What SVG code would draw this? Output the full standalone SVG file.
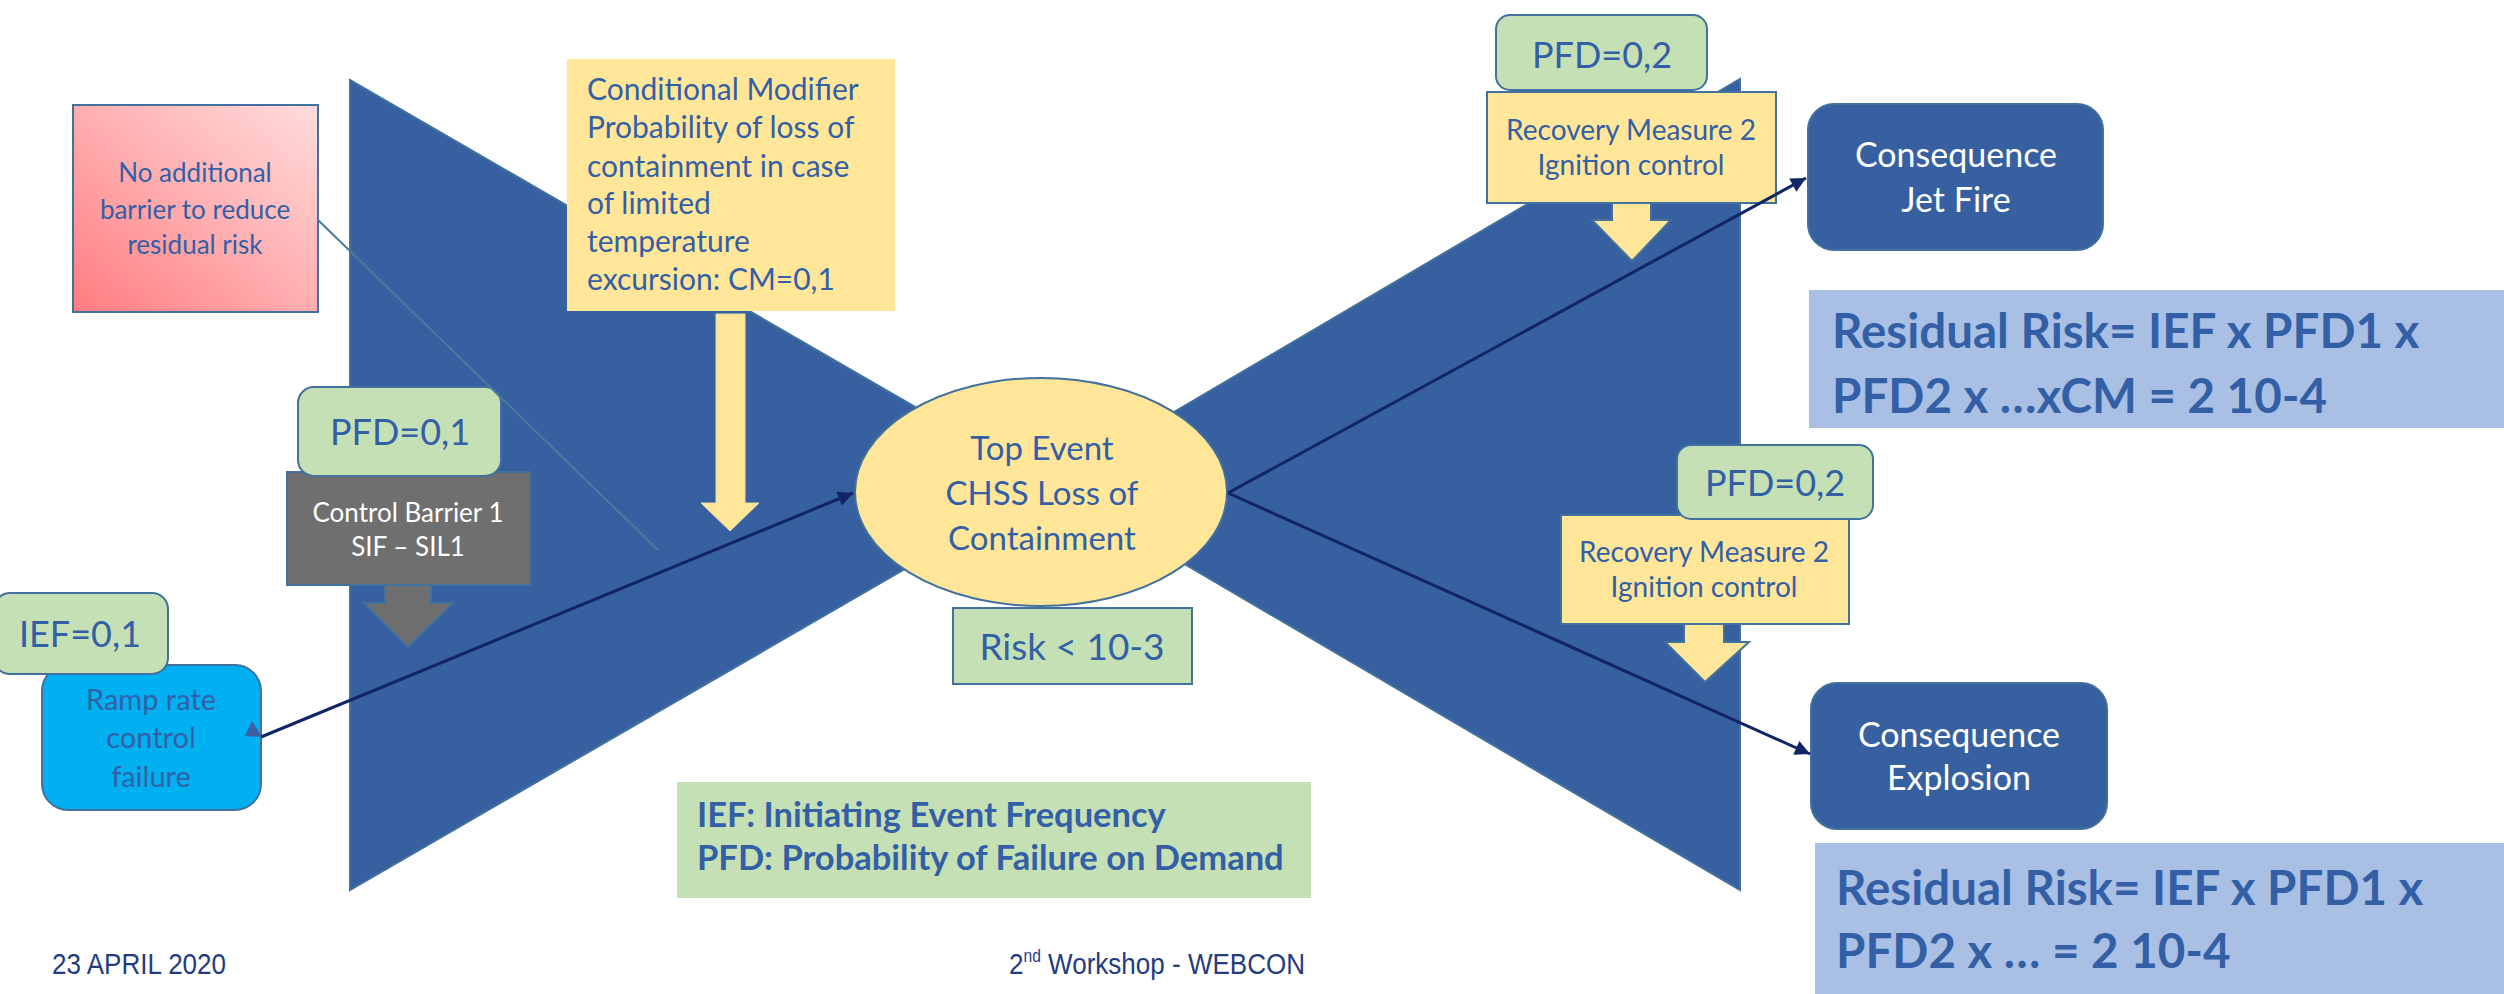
<svg xmlns="http://www.w3.org/2000/svg" width="2504" height="994" viewBox="0 0 2504 994">
  <defs>
    <linearGradient id="pinkFill" x1="0" y1="1" x2="1" y2="0">
      <stop offset="0" stop-color="#FF7C80"/>
      <stop offset="0.55" stop-color="#FFB3B5"/>
      <stop offset="1" stop-color="#FFDCDC"/>
    </linearGradient>
    <marker id="arrowEnd" viewBox="0 0 10 10" refX="10" refY="5" markerWidth="6" markerHeight="5" orient="auto" markerUnits="strokeWidth">
      <path d="M0,0 L10,5 L0,10 Z" fill="#102563"/>
    </marker>
    <style>
      .lbl { font-family: Lato, "Liberation Sans", sans-serif; fill: #335FA6; }
      .wht { font-family: Lato, "Liberation Sans", sans-serif; fill: #FFFFFF; }
      .bold { font-family: Lato, "Liberation Sans", sans-serif; font-weight: bold; fill: #335FA6; }
      .foot { font-family: "Liberation Sans", Arial, sans-serif; fill: #253B80; }
      .edge { stroke: #41719C; stroke-width: 2; }
      .green { fill: #C5E0B4; }
      .yellow { fill: #FFE699; }
      .navy { fill: #3760A1; }
      .conn { stroke: #102563; stroke-width: 3; fill: none; }
    </style>
  </defs>

  <rect width="2504" height="994" fill="#FFFFFF"/>

  <!-- bow-tie body -->
  <g id="bowtie">
    <polygon class="navy edge" points="350,80 350,890 1050,485"/>
    <polygon class="navy edge" points="1740,79 1740,890 1050,485"/>
  </g>

  <!-- top event -->
  <g id="top-event">
    <ellipse class="yellow edge" cx="1041" cy="492" rx="186" ry="114"/>
    <g class="lbl" font-size="33" text-anchor="middle">
      <text x="1042" y="460">Top Event</text>
      <text x="1042" y="505">CHSS Loss of</text>
      <text x="1042" y="550">Containment</text>
    </g>
  </g>

  <g id="risk-target">
    <rect class="green edge" x="953" y="608" width="239" height="76"/>
    <text class="lbl" x="1072" y="660" font-size="37" text-anchor="middle">Risk &lt; 10-3</text>
  </g>

  <!-- left side -->
  <g id="no-barrier">
    <rect x="73" y="105" width="245" height="207" fill="url(#pinkFill)" class="edge"/>
    <g class="lbl" font-size="26" text-anchor="middle">
      <text x="195" y="182">No additional</text>
      <text x="195" y="219">barrier to reduce</text>
      <text x="195" y="254">residual risk</text>
    </g>
  </g>

  <g id="conditional-modifier">
    <rect class="yellow" x="567" y="59" width="328" height="252"/>
    <g class="lbl" font-size="30">
      <text x="587" y="100">Conditional Modifier</text>
      <text x="587" y="138">Probability of loss of</text>
      <text x="587" y="177">containment in case</text>
      <text x="587" y="214">of limited</text>
      <text x="587" y="252">temperature</text>
      <text x="587" y="290">excursion: CM=0,1</text>
    </g>
    <polygon class="yellow" stroke="#E8D9A0" stroke-width="1" points="716,314 745,314 745,503 759,503 730,531 701,503 716,503"/>
  </g>

  <g id="control-barrier-1">
    <rect x="287" y="472" width="243" height="113" fill="#6F6F6F" class="edge"/>
    <g class="wht" font-size="26" text-anchor="middle">
      <text x="408" y="522">Control Barrier 1</text>
      <text x="408" y="556">SIF – SIL1</text>
    </g>
    <polygon fill="#6F6F6F" class="edge" points="385,585 431,585 431,603 453,603 408,647 364,603 385,603"/>
  </g>

  <g id="pfd-barrier-1">
    <rect class="green edge" x="298" y="387" width="203" height="89" rx="16"/>
    <text class="lbl" x="400" y="445" font-size="36" text-anchor="middle">PFD=0,1</text>
  </g>

  <g id="initiating-event">
    <rect x="42" y="665" width="219" height="145" rx="26" fill="#00B0F0" class="edge"/>
    <g class="lbl" font-size="29" text-anchor="middle" fill="#3E64A8">
      <text x="151" y="710">Ramp rate</text>
      <text x="151" y="748">control</text>
      <text x="151" y="787">failure</text>
    </g>
  </g>

  <g id="ief">
    <rect class="green edge" x="-6" y="593" width="174" height="81" rx="16"/>
    <text class="lbl" x="80" y="647" font-size="36" text-anchor="middle">IEF=0,1</text>
  </g>

  <!-- right side -->
  <g id="recovery-measure-top">
    <rect class="yellow edge" x="1487" y="92" width="289" height="111"/>
    <g class="lbl" font-size="28" text-anchor="middle">
      <text x="1631" y="140">Recovery Measure 2</text>
      <text x="1631" y="175">Ignition control</text>
    </g>
    <polygon class="yellow edge" points="1612,203 1651,203 1651,220 1671,220 1632,261 1592,220 1612,220"/>
  </g>

  <g id="pfd-top">
    <rect class="green edge" x="1496" y="15" width="211" height="75" rx="14"/>
    <text class="lbl" x="1602" y="68" font-size="36" text-anchor="middle">PFD=0,2</text>
  </g>

  <g id="recovery-measure-bottom">
    <rect class="yellow edge" x="1561" y="515" width="288" height="109"/>
    <g class="lbl" font-size="28" text-anchor="middle">
      <text x="1704" y="562">Recovery Measure 2</text>
      <text x="1704" y="597">Ignition control</text>
    </g>
    <polygon class="yellow edge" points="1684,624 1724,624 1724,642 1749,642 1705,682 1665,642 1684,642"/>
  </g>

  <g id="pfd-bottom">
    <rect class="green edge" x="1677" y="445" width="196" height="74" rx="14"/>
    <text class="lbl" x="1775" y="496" font-size="36" text-anchor="middle">PFD=0,2</text>
  </g>

  <g id="consequence-jet-fire">
    <rect class="navy edge" x="1808" y="104" width="295" height="146" rx="26"/>
    <g class="wht" font-size="34" text-anchor="middle">
      <text x="1956" y="167">Consequence</text>
      <text x="1956" y="212">Jet Fire</text>
    </g>
  </g>

  <g id="residual-risk-jet-fire">
    <rect x="1809" y="290" width="700" height="138" fill="#A9BFE4"/>
    <g class="bold" font-size="47.5">
      <text x="1832" y="348">Residual Risk= IEF x PFD1 x</text>
      <text x="1832" y="413">PFD2 x …xCM = 2 10-4</text>
    </g>
  </g>

  <g id="consequence-explosion">
    <rect class="navy edge" x="1811" y="683" width="296" height="146" rx="26"/>
    <g class="wht" font-size="34" text-anchor="middle">
      <text x="1959" y="747">Consequence</text>
      <text x="1959" y="790">Explosion</text>
    </g>
  </g>

  <g id="residual-risk-explosion">
    <rect x="1815" y="843" width="700" height="160" fill="#A9BFE4"/>
    <g class="bold" font-size="47.5">
      <text x="1836" y="905">Residual Risk= IEF x PFD1 x</text>
      <text x="1836" y="968">PFD2 x … = 2 10-4</text>
    </g>
  </g>

  <g id="legend">
    <rect class="green" x="677" y="782" width="634" height="116"/>
    <g class="bold" font-size="34.5">
      <text x="697" y="827">IEF: Initiating Event Frequency</text>
      <text x="697" y="870">PFD: Probability of Failure on Demand</text>
    </g>
  </g>

  <!-- connectors -->
  <g id="connectors">
    <line x1="318" y1="220" x2="658" y2="550" stroke="#4A7A9A" stroke-width="2"/>
    <line class="conn" x1="261" y1="737" x2="853" y2="493" marker-end="url(#arrowEnd)"/>
    <polygon points="252,721 245,736 262,737" fill="#3E5FA0"/>
    <line class="conn" x1="1228" y1="493" x2="1806" y2="178" marker-end="url(#arrowEnd)"/>
    <line class="conn" x1="1228" y1="493" x2="1810" y2="754" marker-end="url(#arrowEnd)"/>
  </g>

  <!-- footer -->
  <g id="footer">
    <text class="foot" x="52" y="974" font-size="30" textLength="174" lengthAdjust="spacingAndGlyphs">23 APRIL 2020</text>
    <text class="foot" x="1009" y="974" font-size="30" textLength="296" lengthAdjust="spacingAndGlyphs">2<tspan font-size="18" dy="-12">nd</tspan><tspan dy="12"> Workshop - WEBCON</tspan></text>
  </g>
</svg>
